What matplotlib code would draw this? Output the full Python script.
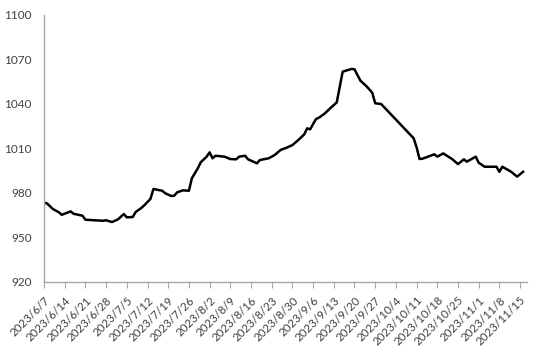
import pandas as pd
import matplotlib.pyplot as plt
import matplotlib.dates as mdates

# values (date, level)
dates = ['2023-06-07', '2023-06-08', '2023-06-10', '2023-06-12', '2023-06-13',
         '2023-06-16', '2023-06-17', '2023-06-20', '2023-06-21', '2023-06-24',
         '2023-06-27', '2023-06-28', '2023-06-30', '2023-07-02', '2023-07-04',
         '2023-07-05', '2023-07-07', '2023-07-08', '2023-07-10', '2023-07-11',
         '2023-07-13', '2023-07-14', '2023-07-17', '2023-07-18', '2023-07-20',
         '2023-07-21', '2023-07-22', '2023-07-24', '2023-07-26', '2023-07-27',
         '2023-07-29', '2023-07-30', '2023-08-01', '2023-08-02', '2023-08-03',
         '2023-08-04', '2023-08-07', '2023-08-09', '2023-08-11', '2023-08-12',
         '2023-08-14', '2023-08-15', '2023-08-16', '2023-08-18', '2023-08-19',
         '2023-08-22', '2023-08-24', '2023-08-26', '2023-08-28', '2023-08-30',
         '2023-09-01', '2023-09-03', '2023-09-04', '2023-09-05', '2023-09-06',
         '2023-09-07', '2023-09-08', '2023-09-10', '2023-09-12', '2023-09-14',
         '2023-09-16', '2023-09-17', '2023-09-19', '2023-09-20', '2023-09-22',
         '2023-09-24', '2023-09-26', '2023-09-27', '2023-09-29', '2023-10-10',
         '2023-10-11', '2023-10-12', '2023-10-13', '2023-10-17', '2023-10-18',
         '2023-10-20', '2023-10-23', '2023-10-25', '2023-10-27', '2023-10-28',
         '2023-10-31', '2023-11-01', '2023-11-03', '2023-11-07', '2023-11-08',
         '2023-11-09', '2023-11-12', '2023-11-14', '2023-11-16']
values = [973.5, 973.0, 969.2, 967.0, 965.3,
          967.6, 966.0, 964.7, 962.0, 961.6,
          961.3, 961.6, 960.4, 962.2, 965.8,
          963.6, 963.8, 967.2, 970.0, 971.9,
          976.0, 982.7, 981.5, 979.8, 978.0,
          978.1, 980.4, 981.8, 981.5, 989.9,
          996.6, 1000.7, 1004.5, 1007.4, 1003.4,
          1005.1, 1004.5, 1002.9, 1002.7, 1004.5,
          1005.1, 1002.7, 1001.8, 1000.0, 1002.2,
          1003.4, 1005.6, 1009.0, 1010.5, 1012.3,
          1015.7, 1019.5, 1023.6, 1022.9, 1026.5,
          1029.9, 1030.8, 1033.7, 1037.5, 1041.1,
          1061.8, 1062.4, 1063.6, 1063.4, 1055.7,
          1052.1, 1047.6, 1040.5, 1040.0, 1016.9,
          1010.8, 1002.9, 1003.1, 1006.1, 1004.5,
          1006.7, 1002.9, 999.5, 1002.7, 1001.1,
          1004.5, 1000.4, 997.7, 997.7, 994.3,
          997.7, 994.3, 991.0, 994.3]

week_ticks = pd.date_range('2023-06-07', '2023-11-15', freq='7D')
y_ticks = [920, 950, 980, 1010, 1040, 1070, 1100]

df = pd.DataFrame({'date': pd.to_datetime(dates), 'value': values})

plt.rcParams['font.family'] = ['Lato', 'DejaVu Sans']

fig = plt.figure(figsize=(5.46, 3.62), dpi=100)
ax = fig.add_axes([0.0806, 0.221, 0.8844, 0.7376])

ax.plot(df['date'], df['value'], color='black', linewidth=1.8)

ax.set_ylim(920, 1100)
ax.set_yticks(y_ticks)
ax.set_xlim(pd.Timestamp('2023-06-07'), pd.Timestamp('2023-06-07') + pd.Timedelta(days=163.3))
ax.set_xticks(week_ticks)
ax.xaxis.set_major_formatter(mdates.DateFormatter('%Y/%-m/%-d'))

for s in ['top', 'right']:
    ax.spines[s].set_visible(False)
for s in ['left', 'bottom']:
    ax.spines[s].set_color('#a6a6a6')
    ax.spines[s].set_linewidth(1.0)

ax.tick_params(axis='y', length=0, pad=9, labelsize=8.5, colors='#404040')
ax.tick_params(axis='x', direction='out', length=4, width=0.8, color='#a6a6a6',
               labelsize=8.3, labelcolor='#404040', pad=5)
for lbl in ax.get_xticklabels():
    lbl.set_rotation(45)
    lbl.set_ha('right')
    lbl.set_rotation_mode('anchor')

fig.savefig('out.png', dpi=100)
